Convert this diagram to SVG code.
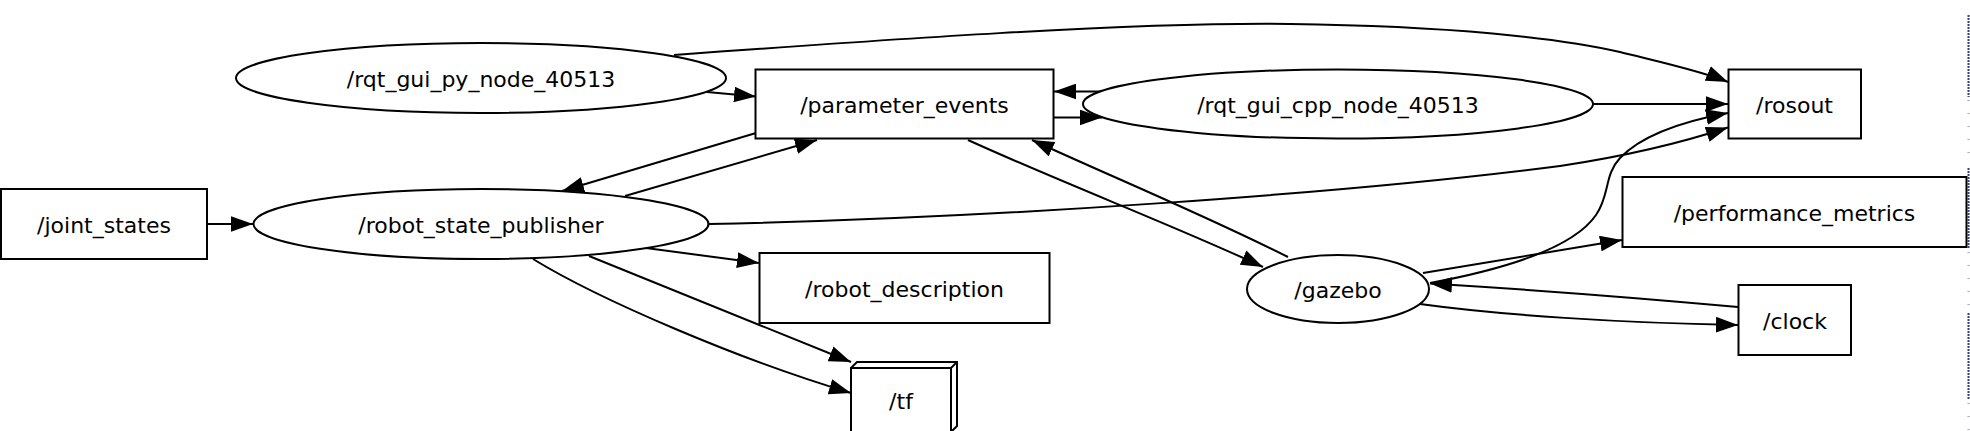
<svg xmlns="http://www.w3.org/2000/svg" width="1970" height="431" viewBox="0 0 1970 431">
<style>
.n{fill:#fff;stroke:#000;stroke-width:2}
.t{font-family:"DejaVu Sans","Liberation Sans",sans-serif;font-size:22px;text-anchor:middle;fill:#000}
.e{fill:none;stroke:#000;stroke-width:2;marker-end:url(#ah)}
</style>
<defs>
<marker id="ah" markerUnits="userSpaceOnUse" markerWidth="22" markerHeight="16" viewBox="0 0 21 15" refX="21" refY="7.5" orient="auto">
<path d="M0,0 L21,7.5 L0,15 z" fill="#000"/>
</marker>
</defs>
<rect width="1970" height="431" fill="#fff"/>
<g id="connectors">
<path class="e" d="M707,92 L756,96.5"/>
<path class="e" d="M674,55 C880,40 1130,22 1290,24 C1450,26 1560,38 1620,52 C1660,62 1702,71 1728,82"/>
<path class="e" d="M756,133 L562,191"/>
<path class="e" d="M625,196 L817,140"/>
<path class="e" d="M1103,91.5 L1054,91.5"/>
<path class="e" d="M1054,117.5 L1102,117.5"/>
<path class="e" d="M968,140 C1060,182 1180,228 1263,267"/>
<path class="e" d="M1288,257 C1200,213 1110,176 1032,140"/>
<path class="e" d="M1593,104 L1728,104"/>
<path class="e" d="M709,224 C1000,218 1350,193 1560,166 C1640,154 1690,140 1728,127.5"/>
<path class="e" d="M1430,283 C1500,270 1572,250 1596,215 C1610,195 1604,175 1620,158 C1645,132 1690,120 1728,113"/>
<path class="e" d="M1738,307 C1650,299 1520,289 1430,283.5"/>
<path class="e" d="M1420,304 C1500,315 1620,323 1738,325"/>
<path class="e" d="M1423,273 L1622,240"/>
<path class="e" d="M207,224 L253,224"/>
<path class="e" d="M646,248 L759,263"/>
<path class="e" d="M589,256 C680,293 770,330 851,362"/>
<path class="e" d="M533,259 C600,300 740,360 851,393"/>
</g>
<g id="rqt_gui_py_node_40513">
<ellipse class="n" cx="481" cy="78" rx="245" ry="35"/>
<text class="t" x="481" y="87">/rqt_gui_py_node_40513</text>
</g>
<g id="parameter_events">
<rect class="n" x="755.5" y="69.5" width="298" height="69"/>
<text class="t" x="904.5" y="113">/parameter_events</text>
</g>
<g id="rqt_gui_cpp_node_40513">
<ellipse class="n" cx="1338" cy="104" rx="255" ry="34.5"/>
<text class="t" x="1338" y="113">/rqt_gui_cpp_node_40513</text>
</g>
<g id="rosout">
<rect class="n" x="1728.5" y="69.5" width="132.5" height="69"/>
<text class="t" x="1794.5" y="113">/rosout</text>
</g>
<g id="joint_states">
<rect class="n" x="1" y="189" width="206" height="70"/>
<text class="t" x="104" y="233">/joint_states</text>
</g>
<g id="robot_state_publisher">
<ellipse class="n" cx="481" cy="224" rx="227.5" ry="35"/>
<text class="t" x="481" y="233">/robot_state_publisher</text>
</g>
<g id="performance_metrics">
<rect class="n" x="1622.5" y="177" width="344" height="70"/>
<text class="t" x="1794.5" y="221">/performance_metrics</text>
</g>
<g id="robot_description">
<rect class="n" x="759.5" y="253" width="290" height="70"/>
<text class="t" x="904.5" y="297">/robot_description</text>
</g>
<g id="gazebo">
<ellipse class="n" cx="1338" cy="289" rx="91" ry="34"/>
<text class="t" x="1338" y="298">/gazebo</text>
</g>
<g id="clock">
<rect class="n" x="1738.5" y="285" width="112.5" height="70"/>
<text class="t" x="1795" y="329">/clock</text>
</g>
<g id="tf">
<path class="n" d="M851,368 L857,362 L957,362 L957,426 L951,432 L851,432 Z"/>
<rect class="n" x="851" y="368" width="100" height="64"/>
<path d="M951,368 L957,362" stroke="#000" stroke-width="2" fill="none"/>
<text class="t" x="901" y="409">/tf</text>
</g>
<g id="edge-strip" fill="none" stroke-width="2">
<path d="M1968.5,15 V97 M1968.5,168 V248 M1968.5,313 V400" stroke="#34407a" stroke-dasharray="2 1"/>
<path d="M1968.5,100 V165 M1968.5,252 V310 M1968.5,403 V431" stroke="#9aa0b8" stroke-dasharray="1 12"/>
</g>
</svg>
